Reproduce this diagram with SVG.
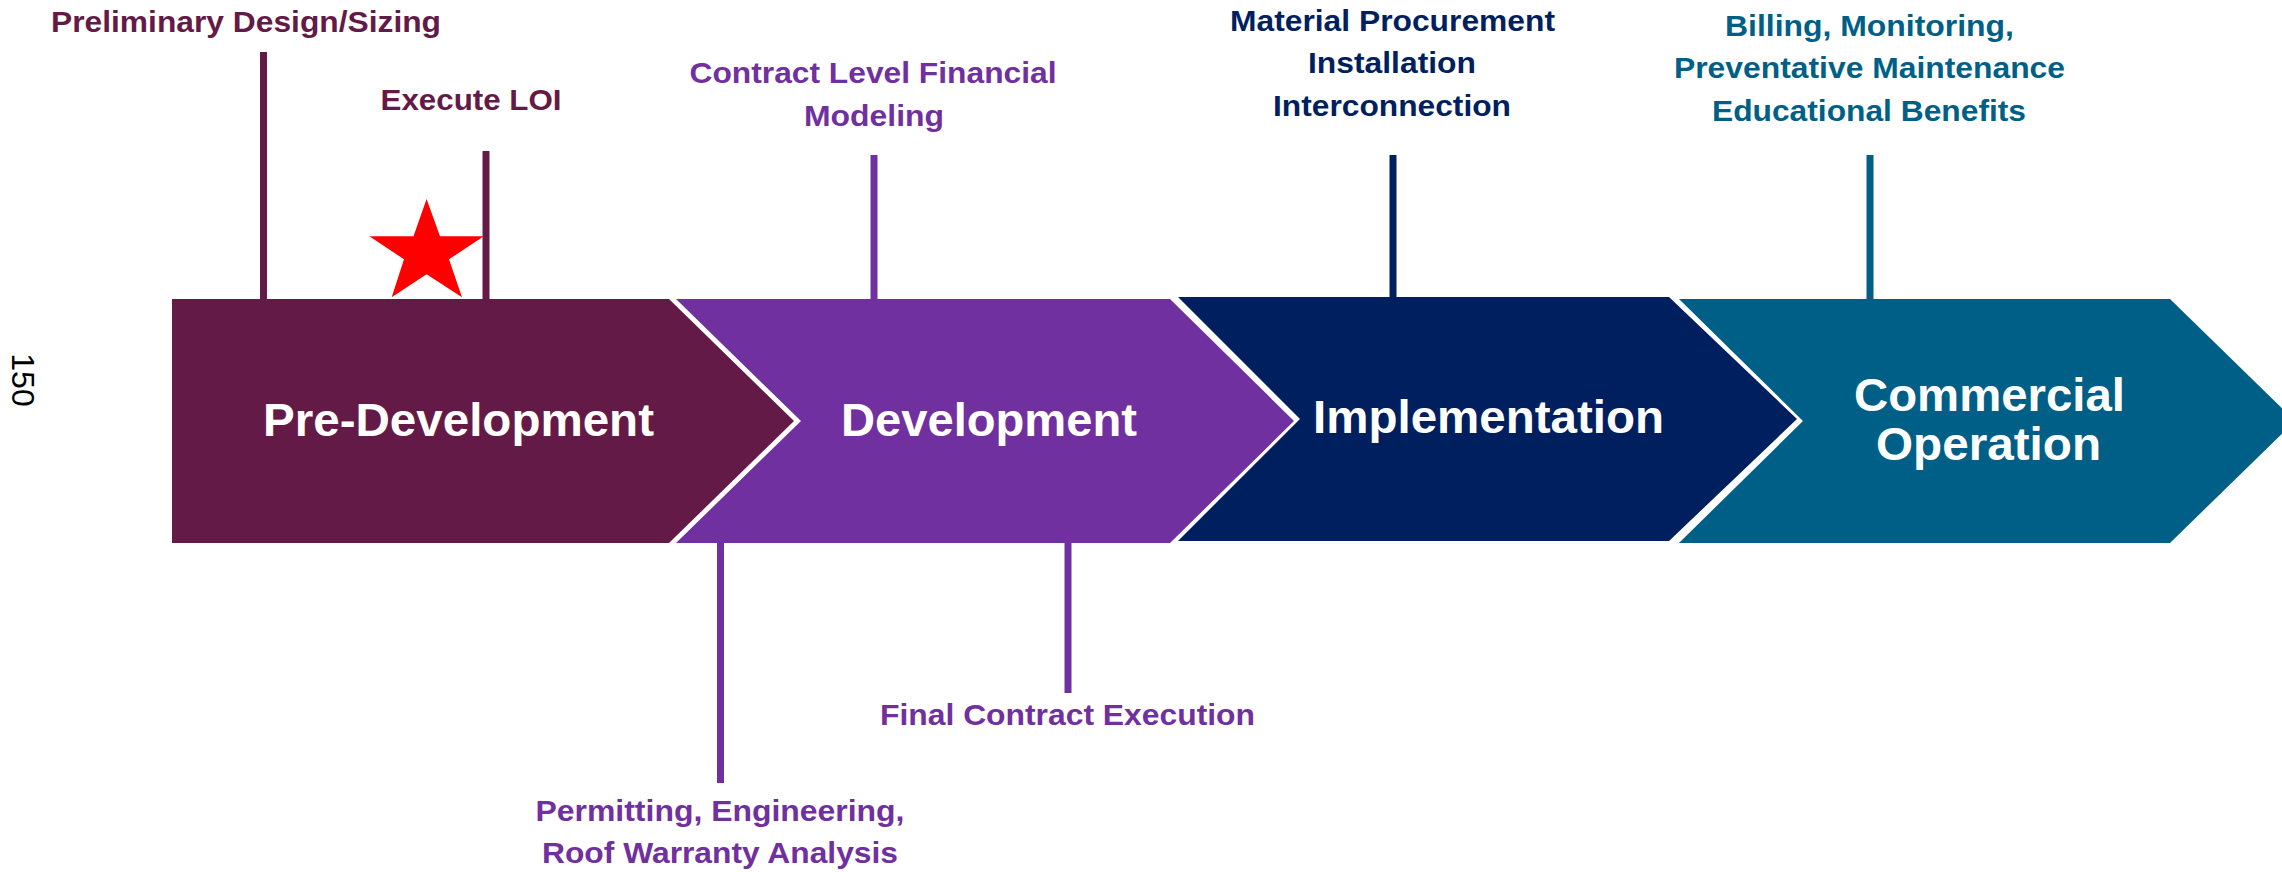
<svg xmlns="http://www.w3.org/2000/svg" width="2282" height="872" viewBox="0 0 2282 872">
<style>
.lbl{font-family:"Liberation Sans",Arial,sans-serif;font-weight:bold;font-size:30px;text-anchor:middle}
.big{font-family:"Liberation Sans",Arial,sans-serif;font-weight:bold;font-size:47px;text-anchor:middle;fill:#FFFFFF}
.maroon{fill:#641A46}.purple{fill:#7030A0}.navy{fill:#001F5F}.teal{fill:#005F87}
.cn{stroke-width:7;fill:none}
</style>
<rect width="2282" height="872" fill="#FFFFFF"/>
<text x="23" y="380" transform="rotate(90 23 380)" font-family="Liberation Sans,Arial,sans-serif" font-size="32" text-anchor="middle" dominant-baseline="central" fill="#000000">150</text>
<g id="connectors">
<line class="cn" x1="263.5" y1="52" x2="263.5" y2="300" stroke="#641A46"/>
<line class="cn" x1="486" y1="151" x2="486" y2="300" stroke="#641A46"/>
<line class="cn" x1="874" y1="155" x2="874" y2="300" stroke="#7030A0"/>
<line class="cn" x1="1393" y1="155" x2="1393" y2="298" stroke="#001F5F"/>
<line class="cn" x1="1870" y1="155" x2="1870" y2="300" stroke="#005F87"/>
<line class="cn" x1="720.5" y1="542" x2="720.5" y2="783" stroke="#7030A0"/>
<line class="cn" x1="1068" y1="542" x2="1068" y2="693" stroke="#7030A0"/>
</g>
<g id="pre-development">
<polygon class="maroon" points="172,299 669,299 794,421 669,543 172,543"/>
<text class="big" x="458.5" y="436" textLength="391" lengthAdjust="spacingAndGlyphs">Pre-Development</text>
</g>
<g id="development">
<polygon class="purple" points="676,299 1170,299 1294,421 1170,543 676,543 801,421"/>
<text class="big" x="989" y="436" textLength="296" lengthAdjust="spacingAndGlyphs">Development</text>
</g>
<g id="implementation">
<polygon class="navy" points="1178,297 1669,297 1797,419 1669,541 1178,541 1300,419"/>
<text class="big" x="1488.5" y="433" textLength="351" lengthAdjust="spacingAndGlyphs">Implementation</text>
</g>
<g id="commercial-operation">
<polygon class="teal" points="1679,299 2170,299 2295,421 2170,543 1679,543 1803,421"/>
<text class="big" x="1989.5" y="411" textLength="271" lengthAdjust="spacingAndGlyphs">Commercial</text>
<text class="big" x="1988.5" y="460" textLength="225" lengthAdjust="spacingAndGlyphs">Operation</text>
</g>
<g id="star">
<polygon fill="#FF0000" points="426.6,199 440,236.3 483.8,236.3 449,259.3 462,297.3 426.6,274.3 391.7,297.3 404,259.3 369.4,236.3 413.5,236.3"/>
</g>
<g id="m-preliminary">
<text class="lbl maroon" x="246" y="32" textLength="390" lengthAdjust="spacingAndGlyphs">Preliminary Design/Sizing</text>
</g>
<g id="m-execute-loi">
<text class="lbl maroon" x="471" y="110" textLength="181" lengthAdjust="spacingAndGlyphs">Execute LOI</text>
</g>
<g id="m-contract-modeling">
<text class="lbl purple" x="873" y="83" textLength="367" lengthAdjust="spacingAndGlyphs">Contract Level Financial</text>
<text class="lbl purple" x="874" y="125.5" textLength="140" lengthAdjust="spacingAndGlyphs">Modeling</text>
</g>
<g id="m-implementation">
<text class="lbl navy" x="1392.5" y="30.5" textLength="325" lengthAdjust="spacingAndGlyphs">Material Procurement</text>
<text class="lbl navy" x="1392" y="73.3" textLength="168" lengthAdjust="spacingAndGlyphs">Installation</text>
<text class="lbl navy" x="1392" y="116" textLength="238" lengthAdjust="spacingAndGlyphs">Interconnection</text>
</g>
<g id="m-operation">
<text class="lbl teal" x="1869.5" y="36" textLength="289" lengthAdjust="spacingAndGlyphs">Billing, Monitoring,</text>
<text class="lbl teal" x="1869.5" y="78.3" textLength="391" lengthAdjust="spacingAndGlyphs">Preventative Maintenance</text>
<text class="lbl teal" x="1869" y="120.7" textLength="314" lengthAdjust="spacingAndGlyphs">Educational Benefits</text>
</g>
<g id="m-permitting">
<text class="lbl purple" x="720" y="821" textLength="369" lengthAdjust="spacingAndGlyphs">Permitting, Engineering,</text>
<text class="lbl purple" x="720" y="862.7" textLength="356" lengthAdjust="spacingAndGlyphs">Roof Warranty Analysis</text>
</g>
<g id="m-final-contract">
<text class="lbl purple" x="1067.5" y="725" textLength="375" lengthAdjust="spacingAndGlyphs">Final Contract Execution</text>
</g>
</svg>
